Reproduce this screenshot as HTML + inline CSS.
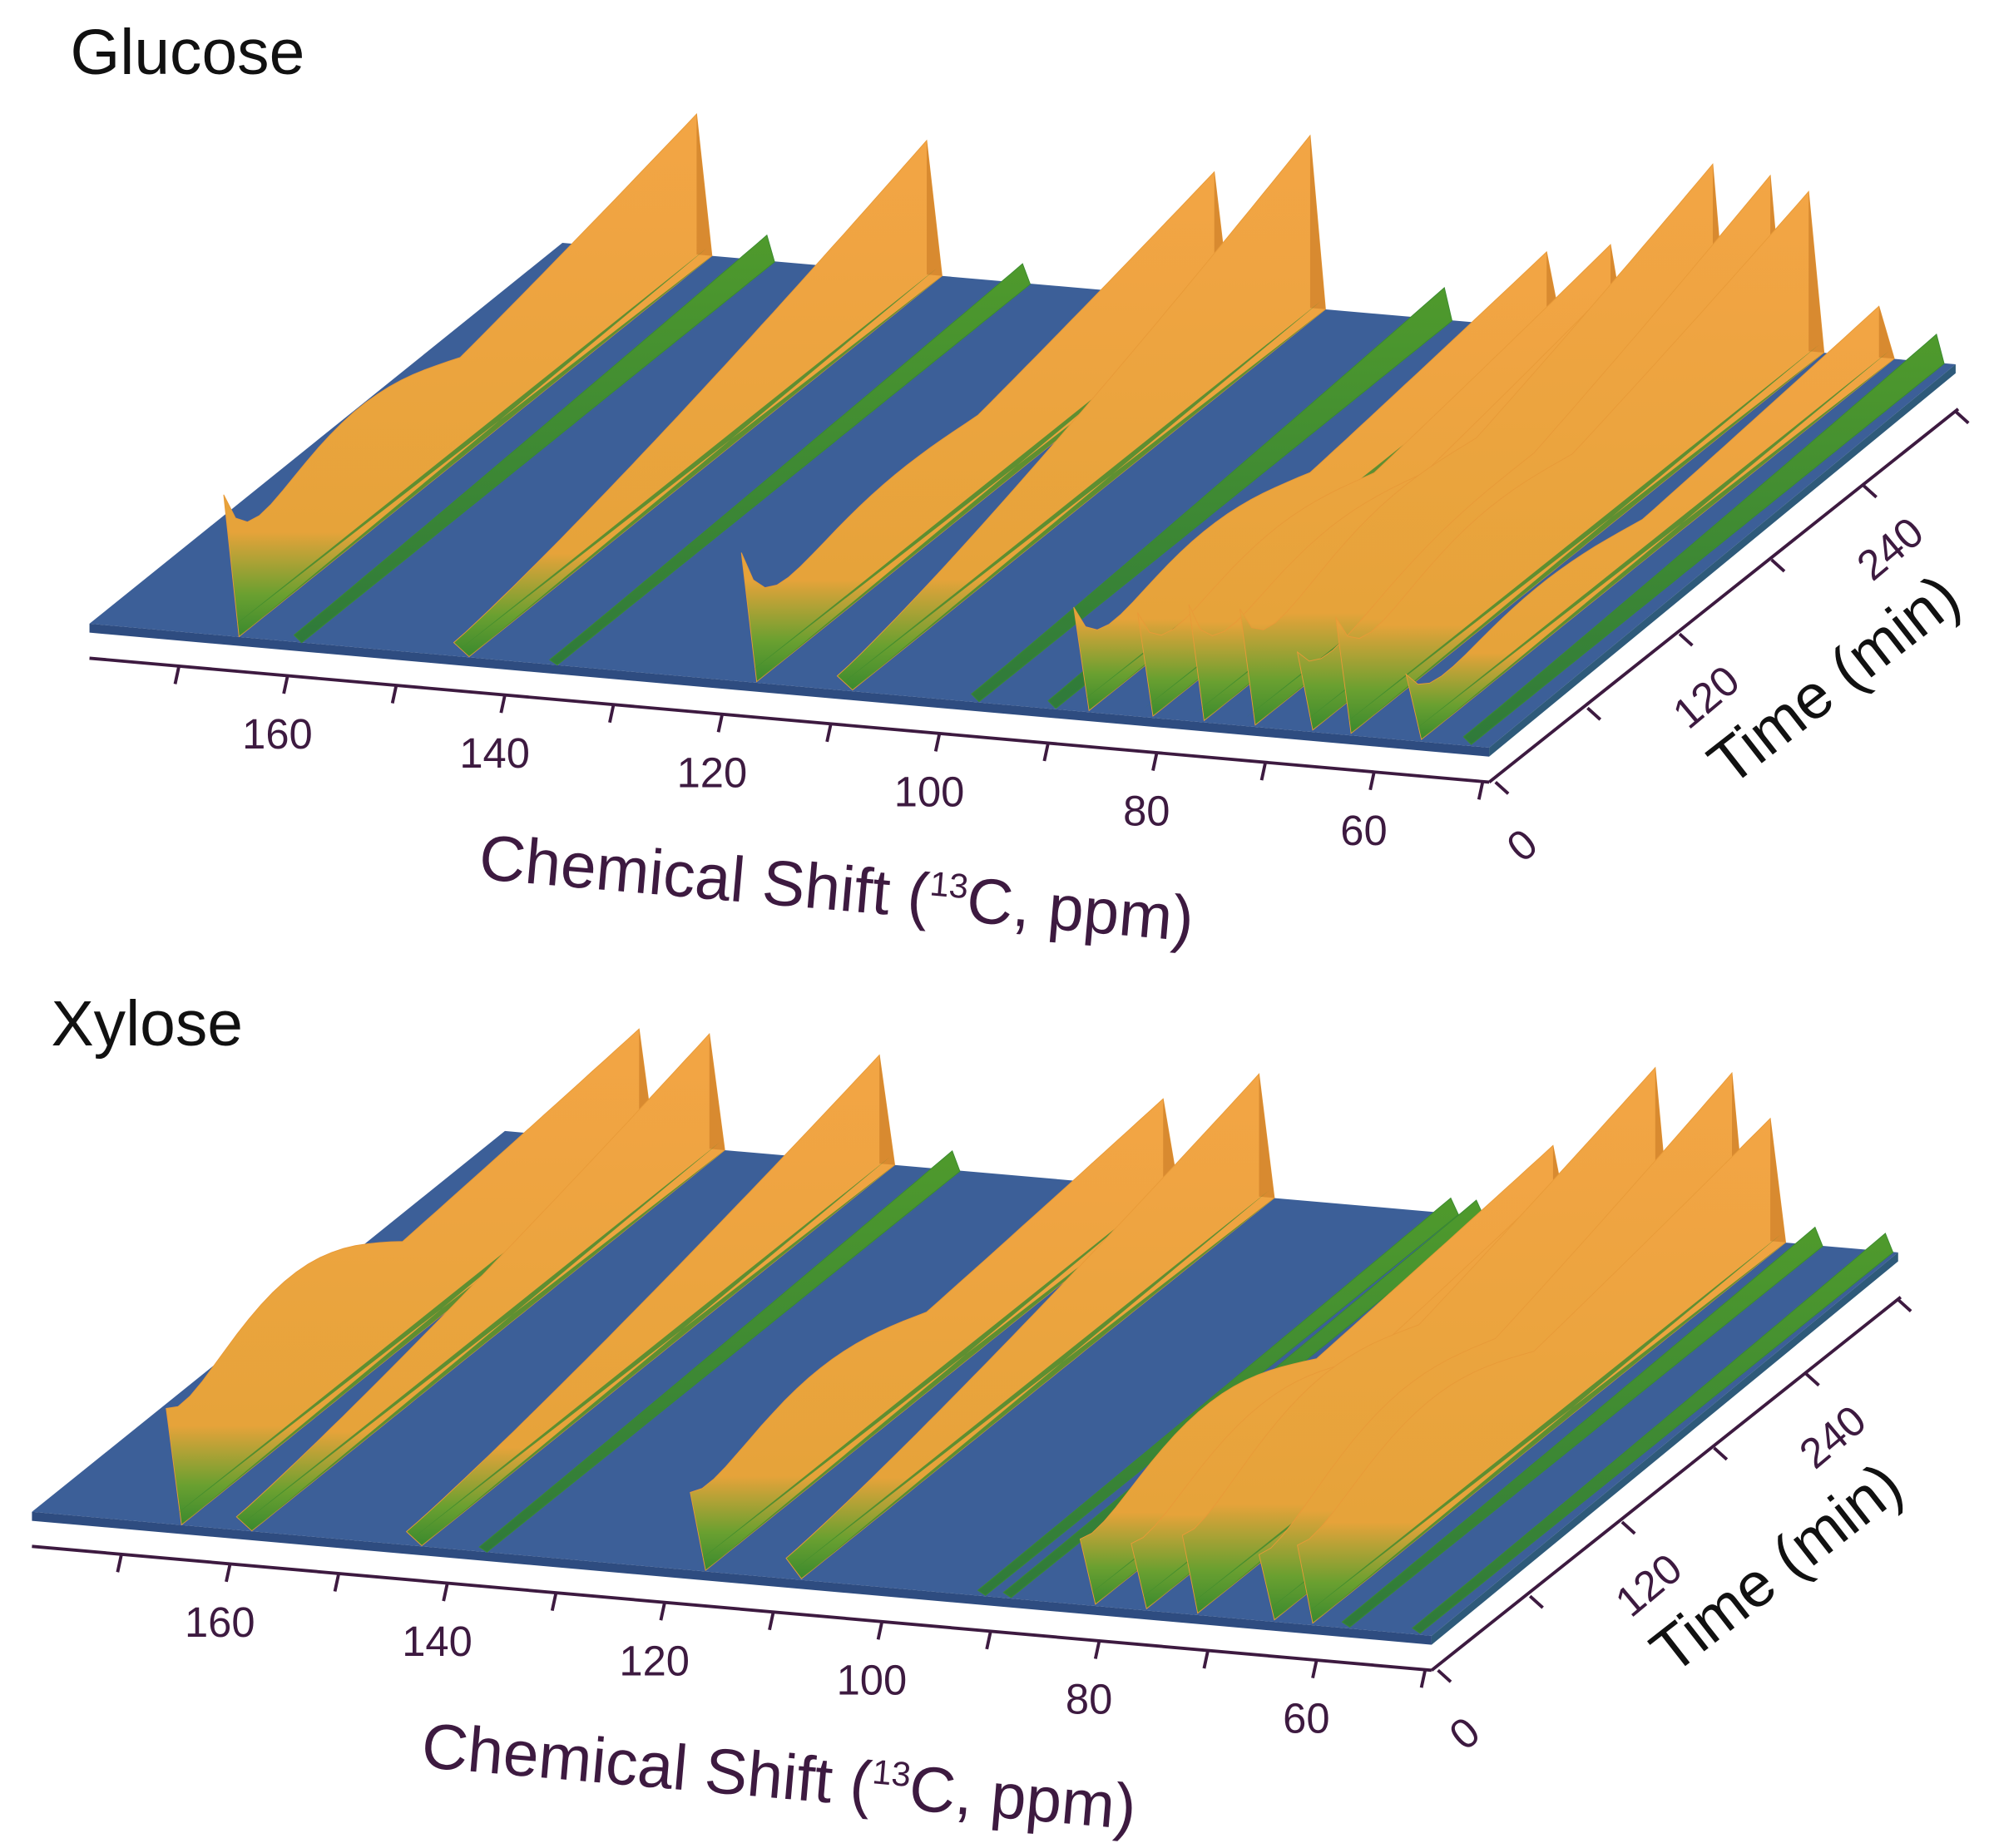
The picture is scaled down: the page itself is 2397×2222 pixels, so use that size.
<!DOCTYPE html>
<html><head><meta charset="utf-8"><style>
html,body{margin:0;padding:0;background:#fff;}
svg{display:block;}
text{font-family:"Liberation Sans",sans-serif;}
</style></head><body>
<svg id="s" width="2397" height="2222" viewBox="0 0 1560 1446" xmlns="http://www.w3.org/2000/svg">
<defs>
<linearGradient id="rg" x1="0" y1="1" x2="0" y2="0">
<stop offset="0" stop-color="#3b8a2e"/><stop offset="0.08" stop-color="#6aa030"/><stop offset="0.2" stop-color="#e6a33a"/><stop offset="1" stop-color="#f3a545"/>
</linearGradient>
<linearGradient id="gg" x1="0" y1="1" x2="0" y2="0">
<stop offset="0" stop-color="#2f7a3a"/><stop offset="1" stop-color="#4f9a2c"/>
</linearGradient>
</defs>
<text x="55" y="58" font-size="50" fill="#111">Glucose</text>
<text x="40" y="818" font-size="50" fill="#111">Xylose</text>
<g id="top"></g>
<g id="bot" transform="translate(-45,695)"></g>
</svg>
<script>
var NS="http://www.w3.org/2000/svg";
function el(p,t,a,txt){var e=document.createElementNS(NS,t);for(var k in a)e.setAttribute(k,a[k]);if(txt!==undefined)e.textContent=txt;p.appendChild(e);return e;}
var TV=[370,-298];
function baseY(bx){return 190+(bx-440)*0.087;}
function panel(g,ridges){
  el(g,'polygon',{points:"70,488 440,190 1530,285 1165,585",fill:"#3c5f98"});
  el(g,'polygon',{points:"70,488 1165,585 1165,592 70,495",fill:"#2e4c80"});
  el(g,'polygon',{points:"1165,585 1530,285 1530,292 1165,592",fill:"#2e5a7a"});
  ridges.forEach(function(r){
    var bx=r[0],H=r[1],h0=r[2],sp=r[3]||0,green=H<40;
    var by=baseY(bx),fx=bx-TV[0],fy=by-TV[1];
    var top=[],bot=[];var N=40;var off=green?6:12;
    for(var i=0;i<=N;i++){var t=i/N;
      var x=fx+TV[0]*t,y=fy+TV[1]*t;
      var h=h0+(H-h0)*Math.pow(t,1.3)+sp*Math.exp(-t/0.04)+ (r[4]||0)*Math.sin(Math.PI*Math.min(t/0.5,1))*(t<0.5?1:0);
      top.push((x).toFixed(1)+","+(y-h).toFixed(1));
      bot.unshift((x+off).toFixed(1)+","+(y+1).toFixed(1));
    }
    el(g,'polygon',{points:top.concat(bot).join(" "),fill:green?"url(#gg)":"url(#rg)",stroke:green?"#3a8a30":"#e89a38","stroke-width":0.6});
    if(!green){
      el(g,'polygon',{points:bx+","+(by-H)+" "+(bx+off)+","+(by+1)+" "+bx+","+by,fill:"#d88a30"});
      el(g,'polygon',{points:bot.join(" ")+" "+(bx+off-4)+","+(by-5)+" "+(fx+5)+","+(fy-5),fill:"#3b8a2e",opacity:0.8});
    }
  });
  var ax="#3d1a40";
  el(g,'line',{x1:70,y1:515,x2:1165,y2:612,stroke:ax,"stroke-width":2.5});
  for(var p=170;p>=50;p-=10){
    var xx=225+(160-p)*8.5,yy=515+(xx-70)*0.0886;
    el(g,'line',{x1:xx,y1:yy,x2:xx-3,y2:yy+14,stroke:ax,"stroke-width":2.5});
    if(p%20==0&&p<=160)el(g,'text',{x:xx-8,y:yy+57,"font-size":33,fill:ax,"text-anchor":"middle"},p);
  }
  el(g,'line',{x1:1165,y1:612,x2:1532,y2:320,stroke:ax,"stroke-width":2.5});
  for(var m=0;m<=300;m+=60){var x=1170+m/60*72,y=612-m/60*58;
    el(g,'line',{x1:x,y1:y,x2:x+10,y2:y+9,stroke:ax,"stroke-width":2.5});
    if(m%120==0)el(g,'text',{transform:"translate("+(x+28)+","+(y+58)+") rotate(-40)","font-size":33,fill:ax,"text-anchor":"middle"},m);
  }
  el(g,'text',{transform:"translate(1445,545) rotate(-38)","font-size":49,fill:"#111","text-anchor":"middle"},"Time (min)");
  var t=el(g,'text',{transform:"translate(653,712) rotate(5)","font-size":50,fill:ax,"text-anchor":"middle"});
  t.innerHTML='Chemical Shift (<tspan font-size="27" dy="-18">13</tspan><tspan dy="18">C, ppm)</tspan>';
}
panel(document.getElementById('top'),[
 [545,110,40,70,40],[600,20,5],[725,105,10],[800,15,3],[950,100,30,70,20],[1025,135,10],
 [1130,25,5],[1190,30,5],[1210,60,20,60,30],[1260,70,20,60,30],[1300,80,20,70,30],[1340,140,30,60,30],[1385,135,20,40,20],[1415,125,30,60,30],[1470,40,10,40,20],[1515,22,5]
]);
panel(document.getElementById('bot'),[
 [545,89,60,30,50],[600,90,10],[733,85,10],[790,15,3],[955,70,40,20,30],[1030,96,15],
 [1180,12,3],[1200,12,3],[1260,60,30,20,40],[1300,70,30,20,40],[1340,128,40,20,40],[1400,129,30,20,40],[1430,96,40,20,40],[1465,14,3],[1520,14,3]
]);
</script>
</body></html>
